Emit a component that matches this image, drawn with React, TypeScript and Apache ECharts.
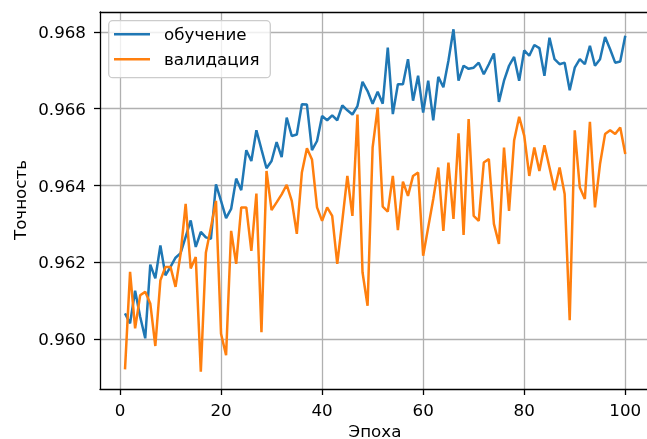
import React, { useEffect, useRef } from "react";
import * as echarts from "echarts";

const epochs: number[] = Array.from({ length: 100 }, (_, i) => i + 1);

const trainAcc: number[] = [
  0.96067, 0.96041, 0.96126, 0.96058, 0.96002, 0.96194, 0.96158, 0.96244, 0.96166, 0.96188,
  0.96212, 0.96224, 0.96266, 0.96309, 0.9624, 0.96279, 0.96265, 0.96261, 0.96403, 0.9636,
  0.96315, 0.96339, 0.96418, 0.96388, 0.96492, 0.96464, 0.96544, 0.96494, 0.96445, 0.96464,
  0.96513, 0.96474, 0.96577, 0.96529, 0.96533, 0.96612, 0.96611, 0.96492, 0.96516, 0.96581,
  0.9657, 0.96583, 0.9657, 0.96609, 0.96596, 0.96585, 0.96607, 0.9667, 0.96646, 0.96613,
  0.96644, 0.96613, 0.96759, 0.96586, 0.96664, 0.96664, 0.96729, 0.96621, 0.96686, 0.9659,
  0.96673, 0.9657, 0.96683, 0.96656, 0.96725, 0.96807, 0.96673, 0.96712, 0.96704, 0.96707,
  0.9672, 0.9669, 0.96716, 0.96744, 0.96618, 0.96673, 0.96712, 0.96735, 0.96673, 0.96752,
  0.96738, 0.96766, 0.96758, 0.96686, 0.96785, 0.96729, 0.96716, 0.9672, 0.96648, 0.96707,
  0.96729, 0.96716, 0.96764, 0.96712, 0.96729, 0.96787, 0.96755, 0.9672, 0.96723, 0.9679,
];

const valAcc: number[] = [
  0.95921, 0.96175, 0.96028, 0.96114, 0.96123, 0.96093, 0.95982, 0.96153, 0.96188, 0.96188,
  0.96136, 0.96222, 0.96352, 0.96184, 0.96214, 0.95915, 0.96225, 0.96291, 0.9636, 0.96014,
  0.95958, 0.96282, 0.96196, 0.96343, 0.96343, 0.9623, 0.96379, 0.96018, 0.96438, 0.96336,
  0.96356, 0.96377, 0.96402, 0.9636, 0.96274, 0.96434, 0.96497, 0.96468, 0.96343, 0.96308,
  0.96343, 0.96321, 0.96196, 0.96308, 0.96425, 0.96321, 0.96585, 0.96174, 0.96087, 0.96499,
  0.96603, 0.96345, 0.96332, 0.96425, 0.96284, 0.9641, 0.96373, 0.96425, 0.96434, 0.96217,
  0.96291, 0.96365, 0.96447, 0.96282, 0.9646, 0.96313, 0.96536, 0.96271, 0.96573, 0.96321,
  0.96308, 0.9646, 0.96469, 0.963, 0.96248, 0.96499, 0.96334, 0.96517, 0.96579, 0.9653,
  0.96425, 0.96499, 0.96438, 0.96505, 0.96447, 0.96388, 0.96447, 0.96378, 0.96049, 0.96544,
  0.96395, 0.96365, 0.96566, 0.96343, 0.96456, 0.96534, 0.96544, 0.96534, 0.96551, 0.96482,
];

const xTicks: number[] = [0, 20, 40, 60, 80, 100];
const yTicks: number[] = [0.96, 0.962, 0.964, 0.966, 0.968];
const seriesNames: string[] = ["обучение", "валидация"];
const xTitle = "Эпоха";
const yTitle = "Точность";

const FONT = "DejaVu Sans";
const FS = 16.7;

export default function App() {
  const ref = useRef<HTMLDivElement>(null);
  useEffect(() => {
    if (!ref.current) return;
    document.body.style.margin = "0";
    document.body.style.overflow = "hidden";
    const chart = echarts.init(ref.current, undefined, { renderer: "svg" });
    const axisCommon = {
      axisLine: { show: true, onZero: false, lineStyle: { color: "#000", width: 1.3 } },
      axisTick: { show: true, inside: false, length: 6, lineStyle: { color: "#000", width: 1.3 } },
      splitLine: { show: true, lineStyle: { color: "#b0b0b0", width: 1.3 } },
    };
    chart.setOption({
      animation: false,
      grid: { left: 100, right: 9.7, top: 12, bottom: 50, containLabel: false },
      xAxis: [
        {
          type: "value",
          min: -3.95,
          max: 104.95,
          ...axisCommon,
          axisTick: { ...axisCommon.axisTick, customValues: xTicks },
          axisLabel: {
            customValues: xTicks,
            margin: 12,
            color: "#000",
            fontFamily: FONT,
            fontSize: FS,
          },
        },
        {
          type: "value",
          position: "top",
          min: -3.95,
          max: 104.95,
          axisLine: { show: true, onZero: false, lineStyle: { color: "#000", width: 1.3 } },
          axisTick: { show: false },
          axisLabel: { show: false },
          splitLine: { show: false },
        },
      ],
      yAxis: {
        type: "value",
        min: 0.9587,
        max: 0.96852,
        ...axisCommon,
        axisTick: { ...axisCommon.axisTick, customValues: yTicks },
        axisLabel: {
          customValues: yTicks,
          margin: 14,
          color: "#000",
          fontFamily: FONT,
          fontSize: FS,
          formatter: (v: number) => v.toFixed(3),
        },
      },
      series: [
        {
          name: seriesNames[0],
          type: "line",
          xAxisIndex: 0,
          data: epochs.map((e, i) => [e, trainAcc[i]]),
          showSymbol: false,
          lineStyle: { color: "#1f77b4", width: 2.5 },
          itemStyle: { color: "#1f77b4" },
          z: 3,
        },
        {
          name: seriesNames[1],
          type: "line",
          xAxisIndex: 0,
          data: epochs.map((e, i) => [e, valAcc[i]]),
          showSymbol: false,
          lineStyle: { color: "#ff7f0e", width: 2.5 },
          itemStyle: { color: "#ff7f0e" },
          z: 4,
        },
      ],
      graphic: [
        {
          type: "rect",
          shape: { x: 108.7, y: 20.7, width: 161.6, height: 57, r: 4 },
          style: { fill: "rgba(255,255,255,0.8)", stroke: "#cccccc", lineWidth: 1.3 },
          z: 100,
        },
        {
          type: "line",
          shape: { x1: 114, y1: 34.3, x2: 150, y2: 34.3 },
          style: { stroke: "#1f77b4", lineWidth: 2.5 },
          z: 101,
        },
        {
          type: "line",
          shape: { x1: 114, y1: 59.3, x2: 150, y2: 59.3 },
          style: { stroke: "#ff7f0e", lineWidth: 2.5 },
          z: 101,
        },
        {
          type: "text",
          x: 164,
          y: 34.3,
          style: { text: seriesNames[0], fill: "#000", font: `${FS}px ${FONT}`, verticalAlign: "middle" },
          z: 101,
        },
        {
          type: "text",
          x: 164,
          y: 59.3,
          style: { text: seriesNames[1], fill: "#000", font: `${FS}px ${FONT}`, verticalAlign: "middle" },
          z: 101,
        },
        {
          type: "text",
          x: 375,
          y: 430.5,
          style: { text: xTitle, fill: "#000", font: `${FS}px ${FONT}`, align: "center", verticalAlign: "middle" },
        },
        {
          type: "text",
          x: 20,
          y: 200,
          rotation: Math.PI / 2,
          style: { text: yTitle, fill: "#000", font: `${FS}px ${FONT}`, align: "center", verticalAlign: "middle" },
        },
      ],
    });
    return () => chart.dispose();
  }, []);
  return <div ref={ref} style={{ position: "fixed", left: 0, top: 0, width: 660, height: 439 }} />;
}
